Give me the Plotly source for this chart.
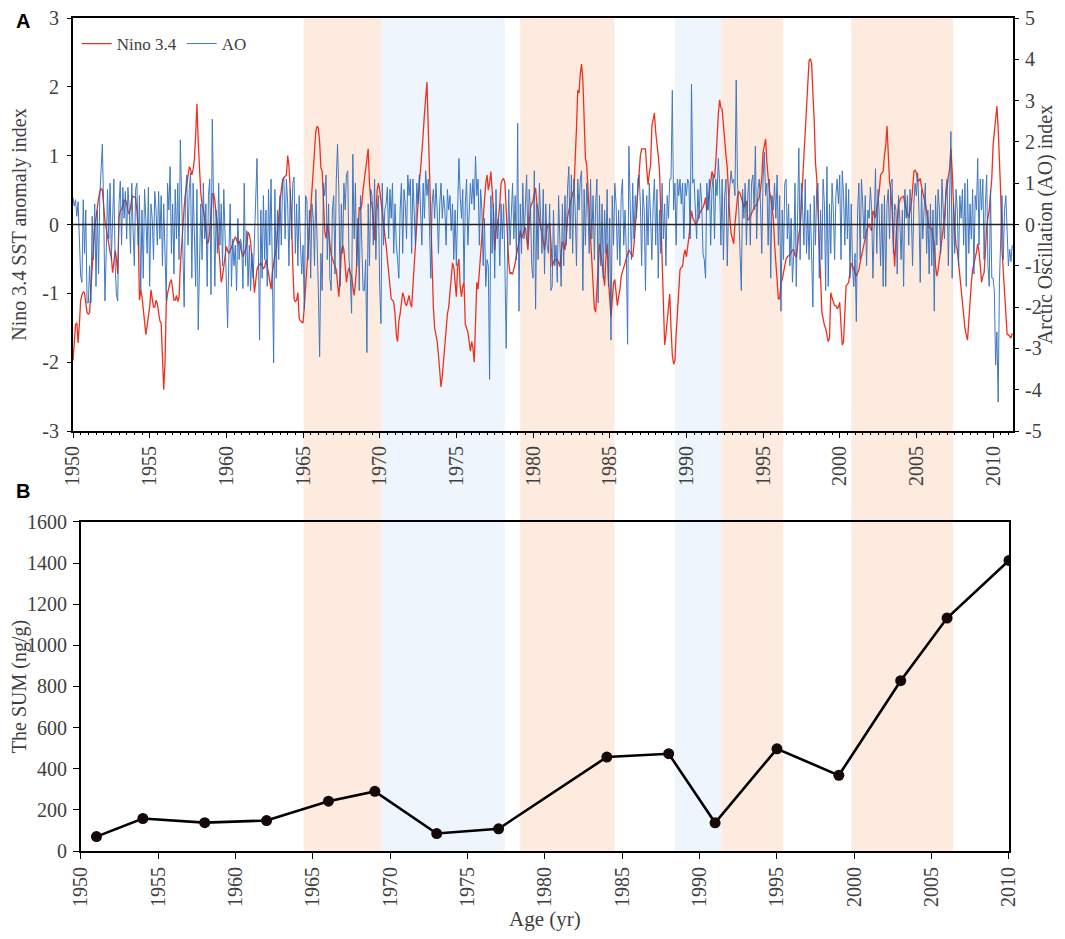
import numpy as np
import plotly.graph_objects as go

# Nino 3.4 SST anomaly, monthly from Jan 1950 (one row per year)
nino34 = [
    -1.98, -1.62, -1.45, -1.43, -1.72, -1.45, -1.10, -1.02, -0.98, -0.99, -1.12, -1.28,
    -1.30, -1.28, -0.95, -0.55, -0.30, -0.05, 0.12, 0.25, 0.38, 0.48, 0.52, 0.50,
    0.25, 0.05, -0.05, -0.18, -0.30, -0.40, -0.47, -0.70, -0.55, -0.38, -0.50, -0.72,
    0.10, 0.20, 0.22, 0.28, 0.34, 0.36, 0.30, 0.20, 0.15, 0.25, 0.38, 0.41,
    0.40, 0.39, 0.20, -0.09, -1.10, -0.95, -1.05, -1.30, -1.41, -1.60, -1.45, -1.30,
    -1.20, -0.95, -1.05, -1.20, -1.20, -1.10, -1.15, -1.30, -1.40, -1.44, -1.90, -2.40,
    -2.00, -1.15, -1.00, -0.90, -0.84, -0.80, -0.95, -1.10, -1.10, -1.03, -1.12, -1.05,
    -0.60, -0.25, 0.10, 0.25, 0.45, 0.60, 0.72, 0.84, 0.80, 0.72, 0.80, 0.95,
    1.30, 1.75, 1.20, 0.70, 0.45, 0.30, 0.20, 0.10, -0.10, -0.28, -0.25, -0.10,
    0.15, 0.45, 0.45, 0.35, 0.15, 0.00, -0.30, -0.60, -0.84, -0.75, -0.60, -0.40,
    -0.32, -0.38, -0.42, -0.38, -0.33, -0.28, -0.22, -0.18, -0.22, -0.28, -0.24, -0.35,
    -0.40, -0.47, -0.42, -0.37, -0.30, -0.11, -0.15, -0.25, -0.45, -0.72, -0.99, -0.80,
    -0.65, -0.60, -0.58, -0.56, -0.60, -0.64, -0.62, -0.51, -0.60, -0.70, -0.85, -0.94,
    -0.70, -0.56, -0.45, -0.37, -0.10, 0.20, 0.35, 0.50, 0.65, 0.68, 0.70, 0.72,
    1.00, 0.85, 0.50, 0.10, -0.60, -1.08, -1.12, -1.10, -0.99, -1.37, -1.40, -1.42,
    -1.43, -1.20, -0.90, -0.60, -0.30, -0.04, 0.30, 0.60, 0.82, 1.15, 1.35, 1.43,
    1.40, 1.20, 0.82, 0.78, 0.30, -0.10, -0.20, 0.00, -0.10, -0.30, -0.44, -0.50,
    -0.55, -0.60, -0.66, -0.85, -1.05, -0.80, -0.40, -0.30, -0.37, -0.60, -0.84, -0.70,
    -0.63, -0.70, -0.75, -0.90, -1.03, -0.85, -0.60, -0.10, 0.25, 0.22, 0.30, 0.50,
    0.67, 0.85, 1.00, 1.10, 0.60, 0.34, 0.29, 0.10, -0.23, 0.10, 0.50, 0.60,
    0.50, 0.34, 0.15, 0.00, -0.15, -0.30, -0.50, -0.70, -0.90, -1.08, -1.10, -1.13,
    -1.30, -1.60, -1.70, -1.40, -1.30, -1.10, -0.99, -1.05, -1.15, -1.18, -1.10, -1.03,
    -1.15, -1.20, -0.90, -0.60, -0.20, 0.10, 0.40, 0.60, 0.80, 1.00, 1.30, 1.60,
    1.90, 2.07, 1.40, 0.77, 0.00, -0.70, -1.20, -1.50, -1.60, -1.70, -1.90, -2.15,
    -2.36, -2.20, -1.95, -1.70, -1.45, -1.30, -1.20, -1.00, -0.75, -0.56, -0.62, -0.80,
    -1.05, -0.60, -0.50, -0.90, -1.05, -0.90, -0.84, -1.45, -1.52, -1.56, -1.70, -1.84,
    -1.70, -1.80, -2.00, -1.20, -0.84, -0.94, -0.70, -0.40, -0.20, 0.15, 0.30, 0.60,
    0.72, 0.50, 0.60, 0.77, 0.50, 0.20, -0.37, -0.10, 0.01, 0.10, 0.30, 0.60,
    0.65, 0.67, 0.60, 0.20, -0.30, -0.55, -0.72, -0.70, -0.72, -0.65, -0.56, -0.45,
    -0.37, -0.25, -0.09, -0.20, -0.15, -0.10, -0.04, -0.20, -0.37, 0.00, 0.25, 0.30,
    0.35, 0.45, 0.53, 0.30, 0.18, 0.05, -0.05, -0.10, -0.25, -0.37, -0.20, -0.05,
    0.00, 0.01, -0.25, -0.61, -0.55, -0.51, -0.51, -0.51, -0.55, -0.61, -0.40, -0.25,
    -0.28, -0.37, -0.20, 0.10, 0.20, 0.30, 0.39, 0.45, 0.50, 0.86, 1.40, 1.95,
    1.91, 2.20, 2.33, 2.09, 1.50, 0.96, 0.86, 0.50, 0.10, -0.28, -0.60, -0.90,
    -1.22, -1.27, -0.95, -0.75, -0.28, -0.40, -0.56, -0.70, -0.89, -0.50, -0.28, -0.80,
    -1.08, -1.34, -1.10, -0.85, -0.80, -1.00, -1.18, -1.05, -0.94, -0.75, -0.68, -0.61,
    -0.55, -0.47, -0.42, -0.37, -0.40, -0.45, -0.47, -0.30, -0.04, 0.20, 0.44, 0.70,
    1.00, 1.10, 1.10, 1.10, 1.10, 0.80, 0.58, 0.75, 0.86, 1.43, 1.55, 1.62,
    1.34, 1.10, 1.00, 0.77, 0.20, -0.56, -1.22, -1.75, -1.60, -1.42, -1.20, -1.01,
    -1.51, -1.90, -2.03, -1.98, -1.60, -1.22, -0.90, -0.66, -0.62, -0.61, -0.45, -0.37,
    -0.47, -0.35, -0.18, 0.00, 0.20, 0.10, 0.06, 0.01, 0.03, 0.06, 0.15, 0.20,
    0.22, 0.25, 0.30, 0.39, 0.20, 0.30, 0.48, 0.60, 0.77, 0.72, 0.67, 0.90,
    1.30, 1.60, 1.81, 1.70, 1.67, 1.40, 1.20, 1.00, 0.82, 0.40, 0.10, -0.13,
    -0.20, -0.28, 0.00, 0.25, 0.40, 0.48, 0.45, 0.39, 0.30, 0.25, 0.30, 0.34,
    0.06, 0.08, 0.12, 0.15, 0.20, 0.25, 0.28, 0.29, 0.35, 0.39, 0.50, 0.67,
    1.05, 1.15, 1.24, 0.90, 0.67, 0.48, 0.39, 0.20, 0.10, -0.28, -0.60, -0.84,
    -1.08, -1.08, -0.84, -0.80, -0.70, -0.56, -0.50, -0.47, -0.45, -0.44, -0.40, -0.37,
    -0.37, -0.45, -0.47, -0.28, -0.15, -0.04, 0.30, 0.70, 1.15, 1.50, 1.86, 2.15,
    2.38, 2.41, 2.34, 1.90, 1.53, 0.90, 0.67, 0.20, -0.20, -0.75, -1.27, -1.40,
    -1.46, -1.51, -1.60, -1.70, -1.65, -0.99, -1.06, -1.13, -1.18, -1.18, -1.22, -1.20,
    -1.13, -1.46, -1.75, -1.70, -1.30, -0.89, -0.87, -0.84, -0.70, -0.56, -0.60, -0.66,
    -0.70, -0.75, -0.70, -0.66, -0.55, -0.47, -0.40, -0.28, -0.20, -0.09, -0.03, 0.01,
    -0.05, -0.09, 0.20, 0.15, 0.10, 0.25, 0.34, 0.50, 0.72, 0.75, 0.77, 1.00,
    1.15, 1.43, 1.05, 0.62, 0.48, 0.20, -0.28, -0.61, -0.20, 0.10, 0.30, 0.34,
    0.39, 0.40, 0.41, 0.30, 0.20, 0.15, 0.10, 0.20, 0.29, 0.50, 0.77, 0.79,
    0.75, 0.62, 0.65, 0.67, 0.55, 0.48, 0.39, 0.30, 0.20, 0.05, -0.04, -0.06,
    -0.06, -0.20, -0.28, -0.60, -0.75, -0.66, -0.50, -0.32, -0.20, -0.09, 0.10, 0.39,
    0.58, 0.70, 0.81, 1.10, 0.77, 0.20, -0.09, -0.30, -0.37, -0.55, -0.75, -1.00,
    -1.22, -1.40, -1.51, -1.60, -1.68, -1.40, -1.08, -0.85, -0.66, -0.58, -0.51, -0.40,
    -0.28, -0.40, -0.60, -0.84, -0.75, -0.70, -0.40, -0.04, 0.10, 0.20, 0.45, 0.67,
    1.15, 1.35, 1.53, 1.72, 1.39, 0.90, 0.44, -0.37, -0.70, -1.08, -1.30, -1.60,
    -1.60, -1.62, -1.65, -1.58,
]

# Arctic Oscillation index, monthly from Jan 1950 (one row per year)
ao = [
    0.65, 0.45, 0.60, 0.20, 0.55, -0.50, -1.25, -1.40, 0.60, -0.70, 0.35, -1.90,
    -1.90, -1.00, -1.90, 0.20, -0.85, 0.50, -1.50, 0.35, -1.20, 0.70, 1.20, 1.95,
    0.35, -1.85, -0.70, 0.85, -0.35, 1.00, -0.85, 0.50, 1.10, -1.00, -1.70, -1.85,
    0.50, 1.05, -0.50, 0.90, 0.15, 0.80, -0.35, 0.90, 0.35, -0.70, 1.00, -0.10,
    -1.00, 0.85, 1.00, -0.50, 0.70, -1.60, 0.35, -1.30, 0.85, 0.15, -0.70, 0.90,
    -1.50, 0.50, 0.15, -0.85, 0.80, 0.35, -0.50, 0.80, -0.35, 0.70, -1.00, 0.50,
    -0.85, -1.85, 1.00, 0.35, 1.40, -0.70, 0.50, -1.20, 0.85, -0.35, 1.00, -0.85,
    2.05, 0.50, -1.00, -2.00, 0.70, 1.20, -0.50, 0.85, 1.25, -1.30, 1.00, -0.70,
    -1.50, 0.85, -2.55, -1.00, 0.50, -0.85, 1.00, -0.35, 0.50, -1.50, 0.70, 1.10,
    -1.70, 2.55, 0.70, -1.50, 0.35, -0.70, 1.00, -0.50, 0.50, -1.00, 0.85, -0.35,
    -1.30, -2.50, -0.70, 0.50, -1.50, -0.35, -1.00, -0.50, -1.60, 0.15, -0.85, -0.35,
    -0.50, -1.55, 1.00, -1.00, -0.15, -1.50, -0.50, -1.60, -0.70, -1.30, -0.35, 0.50,
    1.60, -0.50, -2.80, 0.35, -1.30, 0.70, -0.85, 0.35, -1.50, 0.85, -0.50, 1.10,
    -0.85, -3.35, 0.85, -1.30, 0.35, -0.85, 0.70, -0.50, 1.00, 1.15, -0.35, 1.10,
    0.50, -1.00, 0.85, -0.35, 1.00, 1.15, -0.70, 0.50, -1.00, 0.70, -0.50, -1.20,
    -0.50, -2.05, 0.70, 0.60, -0.85, 0.35, -1.30, 0.50, 0.15, -1.00, 0.85, -0.15,
    -1.60, -3.20, -0.70, -1.60, 1.00, 0.70, 1.20, -0.85, 0.50, -1.30, -1.60, 0.35,
    0.70, -1.20, 1.05, 1.95, 0.85, -1.50, 0.50, -0.70, 1.00, 0.35, 1.20, 1.30,
    -0.85, -1.30, -2.15, 1.70, -0.35, 1.00, -1.00, 0.15, -1.60, 0.70, -0.50, -1.60,
    -1.60, -0.85, -3.10, 0.50, -1.00, 0.85, 0.70, -0.50, 1.10, -0.85, 0.35, 0.70,
    -1.50, -2.40, 1.00, -0.50, 0.35, 0.50, 0.90, -0.35, 0.85, 0.15, 1.00, -0.70,
    0.50, -0.50, -0.85, -1.30, 0.35, 1.00, -0.70, 0.85, 0.50, -0.35, 1.20, 0.70,
    1.10, -0.70, 1.10, 0.35, -0.50, 1.00, 0.50, 1.20, 0.35, -0.50, 1.00, 0.15,
    1.30, 0.70, 1.10, -0.35, -1.30, 0.50, 0.85, 0.15, 1.00, 0.35, -0.70, 0.50,
    1.00, 0.15, 0.70, 0.35, -0.50, 0.85, 0.35, 0.70, -0.15, 0.50, -0.85, 0.35,
    -1.00, 0.35, 1.60, 0.70, 0.15, 0.85, -1.40, 0.50, 1.10, -0.50, 0.35, 1.00,
    0.50, 1.10, 0.35, 1.65, 0.70, 1.10, -0.50, 0.85, 0.35, -1.00, 0.15, -1.50,
    -0.85, -1.00, -3.75, 0.70, -0.70, 0.50, -1.30, 0.85, -0.35, 0.15, -1.00, 0.50,
    -0.35, 0.50, -1.00, -3.00, -0.70, 0.85, -0.50, 0.35, 1.00, -0.35, 0.70, -0.85,
    2.45, -2.10, 0.50, -0.70, 1.00, -0.35, 0.70, 1.20, -0.50, 0.85, 0.35, -1.00,
    -1.30, 1.30, -2.05, 0.50, -0.85, 1.00, 0.15, -0.70, 0.85, -1.20, 0.50, -0.50,
    -0.70, 0.50, -1.60, -1.50, 0.35, -1.00, -0.50, -1.40, 0.70, -0.85, -1.50, 0.50,
    -1.00, 0.70, -0.50, 0.85, 1.40, -0.35, 1.20, -0.70, 1.10, 0.35, -1.00, 1.10,
    0.35, 1.10, 1.30, -1.60, 0.85, -0.50, 1.00, 0.35, -0.70, 1.10, -0.35, 0.70,
    -0.85, 0.50, 1.10, -1.90, 0.70, -1.00, 0.50, -1.30, 0.35, -0.70, 0.85, -1.50,
    0.15, -2.80, 0.70, -0.50, 1.00, 0.50, -0.85, 0.35, -1.00, 0.70, 1.10, -0.50,
    0.35, -0.70, -2.90, 1.90, 0.50, -0.85, 1.00, -0.35, 0.70, 0.15, 1.10, 1.20,
    0.50, -1.00, 0.85, 0.35, -1.60, 0.70, -0.50, 1.00, 0.15, -0.85, 0.50, 1.10,
    -0.50, 0.85, -1.30, 0.35, -0.70, 1.00, -0.35, 0.50, -1.00, 0.70, 0.15, 1.10,
    1.10, 3.25, 0.35, 1.00, -0.50, 1.10, 0.70, 1.10, 0.50, 1.00, -0.35, 1.00,
    0.70, 1.10, 1.00, -0.35, 3.40, 1.00, 1.10, 0.50, -0.35, 0.85, 0.15, 1.00,
    0.50, -0.70, -0.85, -1.30, 1.00, 0.35, 1.10, -0.50, 0.85, 1.20, -0.35, 1.10,
    0.70, 1.60, 1.00, -0.50, 1.10, -0.85, 0.70, 1.10, -1.00, 0.50, 0.85, 1.30,
    1.00, 1.10, 0.70, 3.50, 1.00, 0.35, -0.70, -1.60, 0.85, 0.15, 1.00, -0.50,
    0.70, 1.10, -0.50, 1.00, 1.20, 0.35, 1.90, -0.35, 0.85, 1.10, 0.50, -0.70,
    1.10, 1.75, 0.70, 1.00, -0.50, 1.10, -1.30, 0.70, 0.35, 1.00, 0.15, 1.20,
    -0.50, 0.70, -2.10, 0.35, -0.85, 1.00, 1.10, -0.35, 0.50, -1.00, 0.15, -1.40,
    -0.70, 1.00, -1.50, 0.50, 1.85, -0.85, 1.00, 0.35, -0.50, 1.10, -0.70, 0.35,
    -0.85, 0.50, -1.00, -2.00, 0.70, -0.50, 0.85, 1.00, -1.30, 0.35, -0.85, 1.10,
    0.50, -1.60, 1.40, -1.50, 0.50, -0.70, 1.00, 0.35, -0.85, 0.70, 1.10, 0.50,
    1.20, -0.85, 1.30, 0.70, -0.50, 1.00, -0.35, 0.85, -1.30, 0.50, -1.00, -1.50,
    -0.70, -2.35, 0.35, 1.00, -0.85, 1.10, 0.50, -0.35, 0.70, -1.00, 0.35, 0.15,
    0.90, 0.35, -1.30, 0.50, 1.35, -0.70, 0.85, 0.15, -1.00, 0.50, -1.50, 0.70,
    -1.50, 0.50, 0.85, -0.35, 1.00, 1.10, -0.70, 0.50, 0.35, -1.20, 0.70, 0.15,
    -0.85, 0.35, -1.50, 0.85, 0.15, 0.70, -0.50, 0.85, 0.35, -1.00, 0.50, 1.00,
    0.70, 1.25, 0.35, -1.40, 0.85, -0.35, 0.50, 1.00, -0.70, 0.35, -1.20, 0.50,
    -1.00, 0.35, -2.10, 0.70, -0.50, 0.85, 0.35, -0.70, 1.10, 0.50, -0.35, 0.85,
    1.10, -1.00, 0.70, 2.25, -1.30, 0.50, -0.70, 0.85, 0.35, -1.00, 0.70, 0.15,
    0.85, -0.50, 1.00, -1.50, 1.10, -0.70, 0.50, -0.35, 0.85, -1.20, 0.70, 0.35,
    1.60, -0.50, 1.10, 0.35, 1.10, -0.85, 0.50, 1.20, -1.00, -1.50, 0.85, -1.30,
    -1.30, -1.60, -3.40, -2.60, -4.30, -1.40, -0.35, 0.70, -0.85, 0.35, 0.70, -0.50,
    -1.00, -0.60, -0.90, -0.50,
]

# Panel B: sediment ages and SUM concentrations
age = [1951, 1954, 1958, 1962, 1966, 1969, 1973, 1977, 1984, 1988, 1991, 1995, 1999, 2003, 2006, 2010]
sum_ng = [70, 158, 138, 148, 242, 290, 85, 108, 457, 473, 137, 497, 368, 828, 1133, 1413]

# shaded periods (start, end, phase)
periods = [
    (1964.4, 1969.4, "warm"), (1969.4, 1977.4, "cold"), (1978.4, 1984.5, "warm"),
    (1988.4, 1991.4, "cold"), (1991.4, 1995.4, "warm"), (1999.8, 2006.4, "warm"),
]

months = 1950 + np.arange(len(nino34)) / 12
year_ticks = list(range(1950, 2011, 5))

SERIF = "Liberation Serif"
GREY = "#404040"
tickfont = dict(family=SERIF, size=20, color=GREY)
titlefont = dict(family=SERIF, size=20, color=GREY)

fig = go.Figure()
fig.add_trace(go.Scatter(x=months, y=nino34, mode="lines", name="Nino 3.4",
                         line=dict(color="#F0301E", width=1.3), xaxis="x", yaxis="y"))
fig.add_trace(go.Scatter(x=months, y=ao, mode="lines", name="AO", opacity=0.85,
                         line=dict(color="#1F62B8", width=1.0), xaxis="x", yaxis="y2"))
fig.add_trace(go.Scatter(x=age, y=sum_ng, mode="lines+markers", showlegend=False,
                         line=dict(color="black", width=2.6),
                         marker=dict(size=11, color="#150808"), xaxis="x2", yaxis="y3"))

shapes = []
for x0, x1, phase in periods:
    shapes.append(dict(type="rect", xref="x2", yref="paper", x0=x0, x1=x1, y0=0, y1=1,
                       fillcolor="#FDEBE0" if phase == "warm" else "#EEF5FC",
                       line_width=0, layer="below"))
# zero line of panel A
shapes.append(dict(type="line", xref="x domain", yref="y", x0=0, x1=1, y0=0, y1=0,
                   line=dict(color="#222222", width=1.6), layer="above"))

axis_common = dict(showline=True, linecolor="black", ticks="outside", tickcolor="black",
                   showgrid=False, zeroline=False, tickfont=tickfont, automargin=False,
                   ticklabeloverflow="allow")

fig.update_layout(
    width=1049, height=923,
    margin=dict(l=65, r=44, t=10, b=80),
    paper_bgcolor="white", plot_bgcolor="rgba(0,0,0,0)",
    font=dict(family=SERIF, color=GREY),
    shapes=shapes,
    showlegend=True,
    legend=dict(orientation="h", x=0.004, y=0.9688, xanchor="left", yanchor="middle",
                bgcolor="rgba(0,0,0,0)", font=dict(family=SERIF, size=17, color=GREY),
                itemwidth=30, tracegroupgap=0),
    xaxis=dict(axis_common, domain=[0, 1], anchor="y", range=[1950, 2011.3],
               tickvals=year_ticks, tickangle=-90, ticklen=5, linewidth=2, mirror=True,
               minor=dict(dtick=0.5, ticks="outside", ticklen=2, tickcolor="black", showgrid=False)),
    yaxis=dict(axis_common, domain=[0.5042, 1], anchor="x", range=[-3, 3],
               tickvals=list(range(-3, 4)), ticktext=[str(v) for v in range(-3, 4)],
               ticklen=4, linewidth=2, ticklabelstandoff=4,
               title=dict(text="Nino 3.4 SST anomaly index", font=titlefont, standoff=12)),
    yaxis2=dict(axis_common, overlaying="y", side="right", anchor="x", range=[-5, 5],
                tickvals=list(range(-5, 6)), ticktext=[str(v) for v in range(-5, 6)],
                ticklen=4, linewidth=2, ticklabelstandoff=2,
                title=dict(text="Arctic Oscillation (AO) index", font=titlefont, standoff=1)),
    xaxis2=dict(axis_common, domain=[0.0085, 0.9957], anchor="y3", range=[1950, 2010],
                tickvals=year_ticks, tickangle=-90, ticklen=6, linewidth=2, mirror=True,
                title=dict(text="Age (yr)", font=dict(titlefont, size=21), standoff=4)),
    yaxis3=dict(axis_common, domain=[0, 0.395], anchor="x2", range=[0, 1600], dtick=200,
                ticklen=6, linewidth=2, mirror=True, ticklabelstandoff=2,
                title=dict(text="The SUM (ng/g)", font=titlefont, standoff=1)),
    annotations=[
        dict(text="<b>A</b>", x=-0.063, y=1.012, xref="paper", yref="paper", xanchor="left", yanchor="top",
             showarrow=False, font=dict(family="Liberation Sans", size=20, color="black")),
        dict(text="<b>B</b>", x=-0.063, y=0.4478, xref="paper", yref="paper", xanchor="left", yanchor="top",
             showarrow=False, font=dict(family="Liberation Sans", size=20, color="black")),
    ],
)

fig.write_html("out.html")
